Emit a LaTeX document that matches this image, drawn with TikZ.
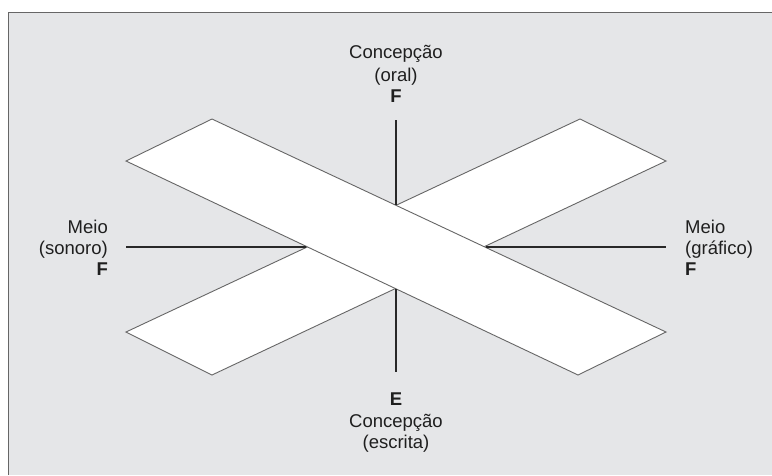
\documentclass[tikz,border=0pt]{standalone}
\usepackage{fontspec}
\setmainfont{Liberation Sans}
\definecolor{bgray}{RGB}{229,230,232}
\definecolor{edgegray}{RGB}{102,102,102}
\definecolor{axisdark}{RGB}{40,40,40}
\begin{document}
\begin{tikzpicture}[x=1pt,y=-1pt,
  band/.style={fill=white,draw=edgegray,line width=0.9pt,line join=miter},
  axisline/.style={draw=axisdark,line width=1.8pt},
  lbl/.style={inner sep=0pt,font=\fontsize{18.5}{22}\selectfont,text=black!88},
  bl/.style={lbl,font=\fontsize{18.5}{22}\selectfont\bfseries}]
\useasboundingbox (0,0) rectangle (772,475);
\fill[white] (0,0) rectangle (772,475);
\fill[bgray] (8.5,12.5) rectangle (772,475);
\draw[edgegray,line width=1.5pt] (8.5,475) -- (8.5,12.5) -- (772,12.5);
% bands
\draw[band] (126,332) -- (212,375) -- (666,161) -- (580,119) -- cycle;
\draw[band] (126,161) -- (212,119) -- (666,332) -- (578,375) -- cycle;
% axis coordinates
\coordinate (vt1) at (396,120);
\coordinate (vt2) at (396,205);
\coordinate (vb1) at (396,289);
\coordinate (vb2) at (396,372);
\coordinate (hl1) at (126,247);
\coordinate (hl2) at (306,247);
\coordinate (hr1) at (486,247);
\coordinate (hr2) at (666,247);
\draw[axisline] (vt1) -- (vt2);
\draw[axisline] (vb1) -- (vb2);
\draw[axisline] (hl1) -- (hl2);
\draw[axisline] (hr1) -- (hr2);
% top label
\node[lbl,anchor=base] (t1) at (396,58) {Concepção};
\node[lbl,anchor=base] (t2) at (396,81) {(oral)};
\node[bl,anchor=base] (t3) at (396,102) {F};
% bottom label
\node[bl,anchor=base] (b1) at (396,405) {E};
\node[lbl,anchor=base] (b2) at (396,427) {Concepção};
\node[lbl,anchor=base] (b3) at (396,448) {(escrita)};
% left label
\node[lbl,anchor=base east] (l1) at (108,233) {Meio};
\node[lbl,anchor=base east] (l2) at (108,254) {(sonoro)};
\node[bl,anchor=base east] (l3) at (108,275) {F};
% right label
\node[lbl,anchor=base west] (r1) at (685,233) {Meio};
\node[lbl,anchor=base west] (r2) at (685,254) {(gráfico)};
\node[bl,anchor=base west] (r3) at (685,275) {F};
\end{tikzpicture}
\end{document}
